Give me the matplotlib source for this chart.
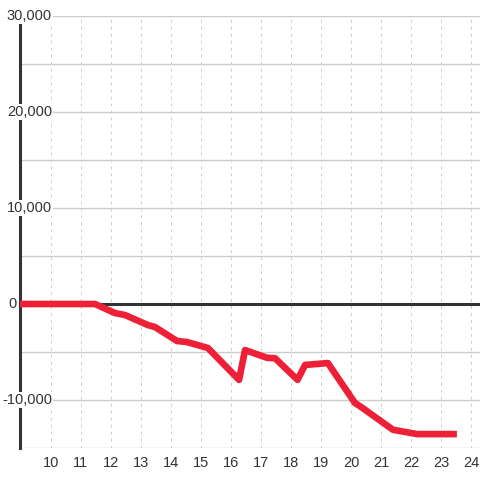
import matplotlib
matplotlib.use("Agg")
import matplotlib.pyplot as plt
import matplotlib.transforms as mtransforms

# Data
x_vals = [8.95, 11.47, 12.13, 12.47, 13.23, 13.47, 14.2, 14.53, 15.23, 16.27,
          16.47, 17.2, 17.47, 18.22, 18.47, 19.23, 20.13, 20.37, 21.4, 22.2, 23.53]
y_vals = [0, 0, -940, -1150, -2190, -2400, -3850, -3960, -4580, -7900,
          -4800, -5600, -5650, -7900, -6350, -6150, -10300, -10800, -13100, -13550, -13550]
x_ticks = list(range(10, 25))
y_label_vals = [30000, 20000, 10000, 0, -10000]
y_label_text = ["30,000", "20,000", "10,000", "0", "-10,000"]

plt.rcParams['font.family'] = ['Liberation Sans', 'DejaVu Sans']

fig = plt.figure(figsize=(4.8, 4.8), dpi=100)
fig.patch.set_facecolor('white')
ax = fig.add_axes([20/480, 1 - 448/480, 460/480, 432/480])
ax.set_facecolor('white')

ax.set_xlim(8.97, 24.3)
ax.set_ylim(-15000, 30000)

# grid
for yv in range(-15000, 30001, 5000):
    ax.axhline(yv, color='#cccccc', lw=1.0, zorder=0.5)
for xv in x_ticks:
    ax.axvline(xv, color='#cfcfcf', lw=0.75, ls=(0, (2.7, 4)), zorder=0.5)

ax.axhline(0, color='#333333', lw=2.2, zorder=1.5)

ax.plot(x_vals, y_vals, color='#ee2037', lw=4.8, solid_joinstyle='round',
        solid_capstyle='butt', zorder=4)

for s in ['top', 'right', 'bottom']:
    ax.spines[s].set_visible(False)
ax.spines['left'].set_color('#333333')
ax.spines['left'].set_linewidth(2.2)

ax.set_xticks(x_ticks)
ax.set_xticklabels([str(t) for t in x_ticks])
ax.tick_params(axis='x', length=0, pad=6, labelsize=10.5, labelcolor='#333333')
ax.set_yticks([])

trans = mtransforms.blended_transform_factory(ax.transAxes, ax.transData)
for v, t in zip(y_label_vals, y_label_text):
    if v == 0:
        xpos = (17 - 20) / 460
        ax.text(xpos, v, t, transform=trans, ha='right', va='center',
                fontsize=10.5, color='#333333', clip_on=False, zorder=3)
    else:
        xpos = (52 - 20) / 460
        ax.text(xpos, v, t, transform=trans, ha='right', va='center',
                fontsize=10.5, color='#333333', clip_on=False, zorder=3,
                bbox=dict(facecolor='white', edgecolor='none', pad=1.0))

fig.savefig('out.png', dpi=100, facecolor='white')
